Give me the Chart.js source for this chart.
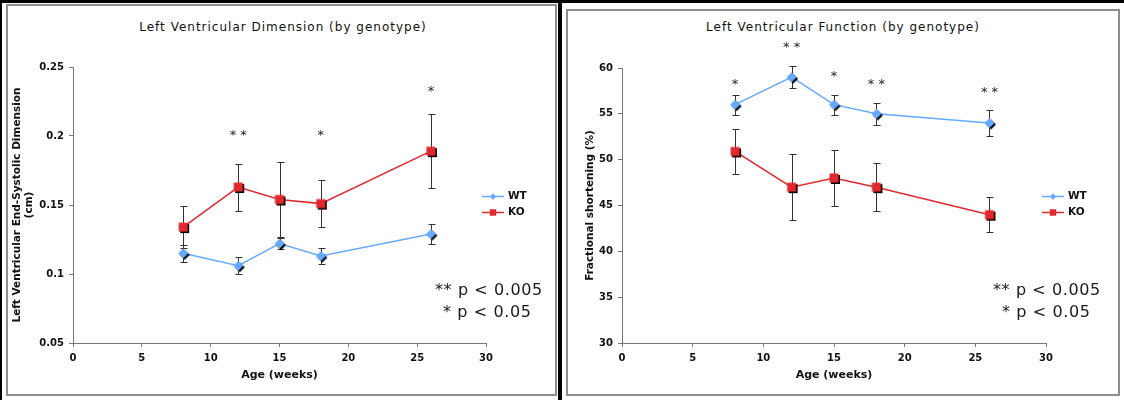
<!DOCTYPE html>
<html>
<head>
<meta charset="utf-8">
<title>LV dimension and function by genotype</title>
<script src="https://cdn.jsdelivr.net/npm/chart.js@4.4.1/dist/chart.umd.min.js"></script>
<style>
  html, body { margin: 0; padding: 0; background: #fff; }
  #page { position: relative; width: 1124px; height: 400px; overflow: hidden; background: #fff; }
  .bar { position: absolute; background: #000; }
  .frame { position: absolute; box-sizing: border-box; border: 2px solid #8e8e8e; }
  canvas { position: absolute; top: 0; }
  .ctitle {
    position: absolute; top: 19px; width: 400px; text-align: center;
    font: 12px "DejaVu Sans", sans-serif; letter-spacing: 1px; color: #111; line-height: 16px;
  }
  .pnote {
    position: absolute; font: 16px "DejaVu Sans", sans-serif; letter-spacing: 0.6px;
    color: #1a1a1a; line-height: 18px; white-space: pre;
  }
</style>
</head>
<body>
<div id="page">
  <!-- panel frames -->
  <div class="frame" style="left:6px; top:4px; width:551px; height:392px;"></div>
  <div class="frame" style="left:566px; top:9px; width:554px; height:387px;"></div>
  <div class="bar" style="left:0; top:0; width:1124px; height:3px;"></div>
  <div class="bar" style="left:0; top:0; width:2px; height:400px;"></div>
  <div class="bar" style="left:558px; top:0; width:4px; height:400px;"></div>

  <div class="ctitle" style="left:83px;">Left Ventricular Dimension (by genotype)</div>
  <div class="ctitle" style="left:643px;">Left Ventricular Function (by genotype)</div>

  <canvas id="chart-dim" width="558" height="400" style="left:0;"></canvas>
  <canvas id="chart-fs" width="562" height="400" style="left:562px;"></canvas>

  <div class="pnote" style="left:435px; top:281px;">** p &lt; 0.005</div>
  <div class="pnote" style="left:443px; top:303px;">* p &lt; 0.05</div>
  <div class="pnote" style="left:993px; top:281px;">** p &lt; 0.005</div>
  <div class="pnote" style="left:1002px; top:303px;">* p &lt; 0.05</div>
</div>

<script>
/* ---------- DATA ---------- */
const ages = [8, 12, 15, 18, 26];
const ageTicks = [0, 5, 10, 15, 20, 25, 30];

// LV end-systolic dimension (cm), mean and error
const dimWt = [0.115, 0.106, 0.122, 0.113, 0.129];
const dimWtErr = [0.006, 0.006, 0.004, 0.006, 0.007];
const dimKo = [0.134, 0.163, 0.154, 0.151, 0.189];
const dimKoErr = [0.015, 0.017, 0.027, 0.017, 0.027];
const dimTicks = [0.05, 0.1, 0.15, 0.2, 0.25];

// fractional shortening (%), mean and error
const fsWt = [56.0, 59.0, 56.0, 55.0, 54.0];
const fsWtErr = [1.1, 1.2, 1.1, 1.2, 1.4];
const fsKo = [50.9, 47.0, 48.0, 47.0, 44.0];
const fsKoErr = [2.5, 3.6, 3.1, 2.6, 1.9];
const fsTicks = [30, 35, 40, 45, 50, 55, 60];

// significance marks: age, height on the y axis, label
const dimStarAge = [12, 18, 26];
const dimStarLevel = [0.203, 0.203, 0.235];
const dimStarText = ['* *', '*', '*'];
const fsStarAge = [8, 12, 15, 18, 26];
const fsStarLevel = [58.6, 62.6, 59.5, 58.6, 57.7];
const fsStarText = ['*', '* *', '*', '* *', '* *'];

/* ---------- STYLE ---------- */
const FONT = '"DejaVu Sans", Verdana, sans-serif';
const WT_COLOR = '#66aaff';
const KO_COLOR = '#e0282f';
const AXIS_COLOR = '#777';

/* ---------- MARKERS (with drop shadow) ---------- */
function shapePath(ctx, shape, cx, cy, r) {
  ctx.beginPath();
  if (shape === 'diamond') {
    ctx.moveTo(cx, cy - r);
    ctx.lineTo(cx + r, cy);
    ctx.lineTo(cx, cy + r);
    ctx.lineTo(cx - r, cy);
  } else {
    ctx.rect(cx - r, cy - r, 2 * r, 2 * r);
  }
  ctx.closePath();
}

function makeMarker(shape, color, r, shadow) {
  const size = 2 * (r + shadow) + 2;
  const c = document.createElement('canvas');
  c.width = c.height = size;
  const ctx = c.getContext('2d');
  const m = size / 2;
  if (shadow) {
    ctx.fillStyle = '#000';
    shapePath(ctx, shape, m + shadow, m + shadow, r);
    ctx.fill();
  }
  ctx.fillStyle = color;
  shapePath(ctx, shape, m, m, r);
  ctx.fill();
  return c;
}

const wtMarker = makeMarker('diamond', WT_COLOR, 5, 1.5);
const koMarker = makeMarker('square', KO_COLOR, 4.5, 1.5);

/* ---------- PLUGINS ---------- */
const errorBars = {
  id: 'errorBars',
  beforeDatasetsDraw(chart, args, opts) {
    const { ctx, scales: { x, y } } = chart;
    ctx.save();
    ctx.strokeStyle = opts.color;
    ctx.lineWidth = 1;
    chart.data.datasets.forEach(ds => {
      ds.data.forEach((p, i) => {
        const e = ds.errors[i];
        const px = Math.round(x.getPixelForValue(p.x)) + 0.5;
        const top = Math.round(y.getPixelForValue(p.y + e)) + 0.5;
        const bot = Math.round(y.getPixelForValue(p.y - e)) + 0.5;
        ctx.beginPath();
        ctx.moveTo(px, top); ctx.lineTo(px, bot);
        ctx.moveTo(px - opts.cap, top); ctx.lineTo(px + opts.cap + 1, top);
        ctx.moveTo(px - opts.cap, bot); ctx.lineTo(px + opts.cap + 1, bot);
        ctx.stroke();
      });
    });
    ctx.restore();
  }
};

const sideLegend = {
  id: 'sideLegend',
  afterDraw(chart, args, opts) {
    const { ctx, chartArea } = chart;
    ctx.save();
    chart.data.datasets.forEach((ds, i) => {
      const y = Math.round(chartArea.top + opts.top + i * opts.gap) + 0.5;
      const x0 = Math.round(chartArea.right + opts.left);
      ctx.strokeStyle = ds.borderColor;
      ctx.lineWidth = 1.5;
      ctx.beginPath();
      ctx.moveTo(x0, y);
      ctx.lineTo(x0 + opts.lineLen, y);
      ctx.stroke();
      ctx.fillStyle = ds.borderColor;
      shapePath(ctx, ds.legendShape, x0 + opts.lineLen / 2, y, 3.2);
      ctx.fill();
      ctx.fillStyle = '#111';
      ctx.font = 'bold 10.5px ' + FONT;
      ctx.textBaseline = 'middle';
      ctx.fillText(ds.label, x0 + opts.lineLen + 4, y);
    });
    ctx.restore();
  }
};

const stars = {
  id: 'stars',
  afterDraw(chart, args, opts) {
    const { ctx, scales: { x, y } } = chart;
    ctx.save();
    ctx.fillStyle = '#222';
    ctx.font = '13px ' + FONT;
    ctx.textAlign = 'center';
    ctx.textBaseline = 'alphabetic';
    opts.age.forEach((a, i) => {
      ctx.fillText(opts.text[i], x.getPixelForValue(a), y.getPixelForValue(opts.level[i]) + 7);
    });
    ctx.restore();
  }
};

/* ---------- BUILD CHART ---------- */
function series(label, vals, errs, color, marker, legendShape) {
  return {
    label,
    data: ages.map((a, i) => ({ x: a, y: vals[i] })),
    errors: errs,
    legendShape,
    borderColor: color,
    backgroundColor: color,
    borderWidth: 1.5,
    tension: 0,
    pointStyle: marker,
    pointRadius: 5
  };
}

function buildChart(id, o) {
  const ctx = document.getElementById(id).getContext('2d');
  const tickFont = { family: FONT, size: 10, weight: 'bold' };
  const titleFont = { family: FONT, size: 10.5, weight: 'bold' };
  return new Chart(ctx, {
    type: 'line',
    data: {
      datasets: [
        series('WT', o.wt, o.wtErr, WT_COLOR, wtMarker, 'diamond'),
        series('KO', o.ko, o.koErr, KO_COLOR, koMarker, 'square')
      ]
    },
    options: {
      responsive: false,
      animation: false,
      events: [],
      layout: { padding: { left: 0, right: o.padRight, top: o.padTop, bottom: 0 } },
      plugins: {
        legend: { display: false },
        tooltip: { enabled: false },
        title: { display: false },
        errorBars: { color: '#333', cap: 3 },
        sideLegend: { left: -4, top: o.legendTop, gap: 16, lineLen: 22 },
        stars: { age: o.starAge, level: o.starLevel, text: o.starText }
      },
      scales: {
        x: {
          type: 'linear',
          min: 0,
          max: 30,
          afterBuildTicks: s => { s.ticks = ageTicks.map(v => ({ value: v })); },
          afterFit: s => { s.height = 57; },
          ticks: { color: '#111', font: tickFont, padding: 5, maxRotation: 0, autoSkip: false },
          grid: { drawOnChartArea: false, tickLength: 4, color: AXIS_COLOR },
          border: { color: AXIS_COLOR },
          title: {
            display: true, text: 'Age (weeks)', color: '#111',
            font: { family: FONT, size: 11, weight: 'bold' }, padding: { top: 0, bottom: 18 }
          }
        },
        y: {
          min: o.yTicks[0],
          max: o.yTicks[o.yTicks.length - 1],
          afterBuildTicks: s => { s.ticks = o.yTicks.map(v => ({ value: v })); },
          afterFit: s => { s.width = o.yWidth; },
          ticks: { color: '#111', font: tickFont, padding: 5, autoSkip: false, callback: v => String(v) },
          grid: { drawOnChartArea: false, tickLength: 4, color: AXIS_COLOR },
          border: { color: AXIS_COLOR },
          title: {
            display: true, text: o.yTitle, color: '#111',
            font: titleFont, padding: { top: o.yTitlePad, bottom: 0 }
          }
        }
      }
    },
    plugins: [errorBars, sideLegend, stars]
  });
}

buildChart('chart-dim', {
  yTitle: ['Left Ventricular End-Systolic Dimension', '(cm)'],
  wt: dimWt, wtErr: dimWtErr, ko: dimKo, koErr: dimKoErr,
  yTicks: dimTicks,
  starAge: dimStarAge, starLevel: dimStarLevel, starText: dimStarText,
  yWidth: 73, yTitlePad: 10.7, padRight: 72, padTop: 67, legendTop: 129
});

buildChart('chart-fs', {
  yTitle: 'Fractional shortening (%)',
  wt: fsWt, wtErr: fsWtErr, ko: fsKo, koErr: fsKoErr,
  yTicks: fsTicks,
  starAge: fsStarAge, starLevel: fsStarLevel, starText: fsStarText,
  yWidth: 60, yTitlePad: 21.7, padRight: 78, padTop: 68, legendTop: 128
});
</script>
</body>
</html>
